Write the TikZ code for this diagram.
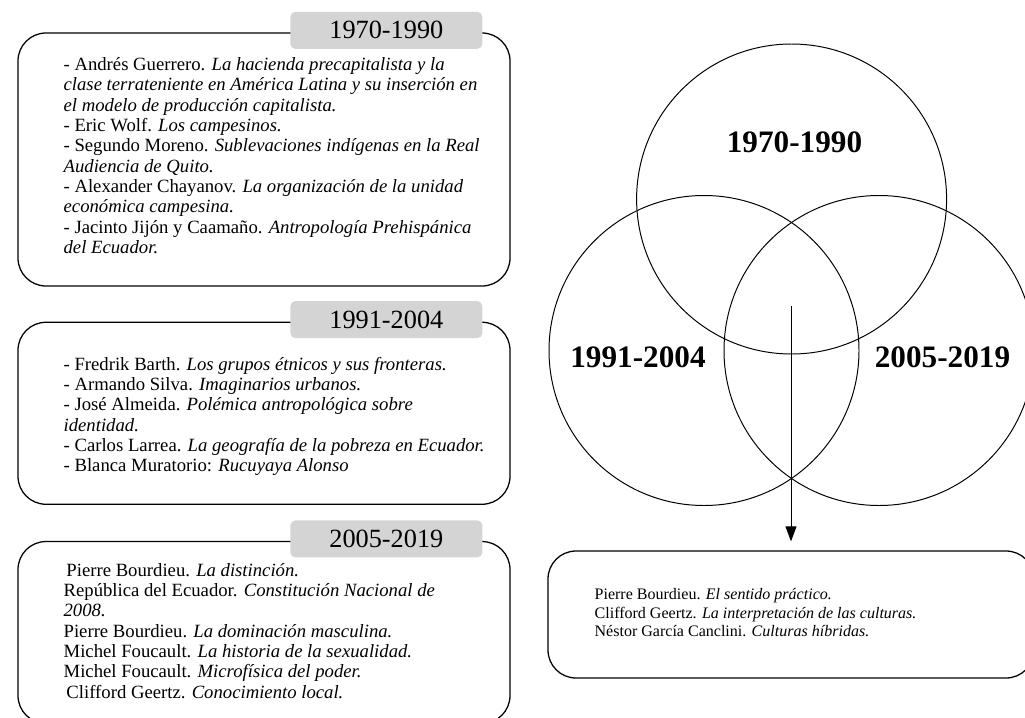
\documentclass[tikz,border=0pt]{standalone}
\usepackage{fontspec}
\setmainfont{Liberation Serif}
\usetikzlibrary{positioning,arrows.meta}
\definecolor{tabgray}{RGB}{212,212,212}
\tikzset{
  periodbox/.style={draw, line width=0.9pt, rounded corners=0.7cm, minimum width=12.3cm, inner sep=0pt},
  periodtab/.style={fill=tabgray, rounded corners=0.125cm, minimum width=4.8cm, minimum height=0.925cm, inner sep=0pt, anchor=east, font=\fontsize{18.7pt}{20pt}\selectfont},
  reflist/.style={align=left, inner sep=0pt, anchor=north west, font=\fontsize{13.3pt}{14.45pt}\selectfont},
  venn/.style={draw, circle, line width=0.7pt, minimum size=7.75cm, inner sep=0pt},
  vennlabel/.style={inner sep=0pt, font=\fontsize{22.2pt}{24pt}\selectfont\bfseries}
}

\begin{document}
\begin{tikzpicture}
  \path[use as bounding box, clip] (0,0) rectangle (25.625,-17.95);
  \node[periodbox, minimum height=6.325cm] (box1) at (6.6,-3.9875) {};
  \node[periodbox, minimum height=4.55cm, below=0.875cm of box1] (box2) {};
  \node[periodbox, minimum height=4.55cm, below=0.9cm of box2] (box3) {};
  \node[periodtab] (tab1) at ([xshift=-0.7cm,yshift=0.05cm]box1.north east) {1970-1990};
  \node[periodtab] (tab2) at ([xshift=-0.7cm,yshift=0.05cm]box2.north east) {1991-2004};
  \node[periodtab] (tab3) at ([xshift=-0.7cm,yshift=0.05cm]box3.north east) {2005-2019};
  \node[reflist] (list1) at ([xshift=1.15cm,yshift=-0.625cm]box1.north west) {- Andrés Guerrero. \textit{La hacienda precapitalista y la}\\
    \textit{clase terrateniente en América Latina y su inserción en}\\
    \textit{el modelo de producción capitalista.}\\
    - Eric Wolf. \textit{Los campesinos.}\\
    - Segundo Moreno. \textit{Sublevaciones indígenas en la Real}\\
    \textit{Audiencia de Quito.}\\
    - Alexander Chayanov. \textit{La organización de la unidad}\\
    \textit{económica campesina.}\\
    - Jacinto Jijón y Caamaño. \textit{Antropología Prehispánica}\\
    \textit{del Ecuador.}};
  \node[reflist] (list2) at ([xshift=1.15cm,yshift=-0.875cm]box2.north west) {- Fredrik Barth. \textit{Los grupos étnicos y sus fronteras.}\\
    - Armando Silva. \textit{Imaginarios urbanos.}\\
    - José Almeida. \textit{Polémica antropológica sobre}\\
    \textit{identidad.}\\
    - Carlos Larrea. \textit{La geografía de la pobreza en Ecuador.}\\
    - Blanca Muratorio: \textit{Rucuyaya Alonso}};
  \node[reflist] (list3) at ([xshift=1.15cm,yshift=-0.55cm]box3.north west) {\hspace*{0.15em}Pierre Bourdieu. \textit{La distinción.}\\
    República del Ecuador. \textit{Constitución Nacional de}\\
    \textit{2008.}\\
    Pierre Bourdieu. \textit{La dominación masculina.}\\
    Michel Foucault. \textit{La historia de la sexualidad.}\\
    Michel Foucault. \textit{Microfísica del poder.}\\
    \hspace*{0.15em}Clifford Geertz. \textit{Conocimiento local.}};
  \node[venn] (c1) at (19.79,-4.975) {};
  \node[venn] (c2) at (17.6,-8.7625) {};
  \node[venn] (c3) at (21.975,-8.7625) {};
  \node[vennlabel] (lab1) at (19.8625,-3.5625) {1970-1990};
  \node[vennlabel] (lab2) at (15.95,-8.925) {1991-2004};
  \node[vennlabel] (lab3) at (23.5625,-8.925) {2005-2019};
  \node[periodbox, minimum width=12.15cm, minimum height=3.175cm] (boxR) at (19.775,-15.3625) {};
  \node[reflist, font=\fontsize{11.4pt}{13.2pt}\selectfont] (listR) at ([xshift=1.175cm,yshift=-0.95cm]boxR.north west) {Pierre Bourdieu. \textit{El sentido práctico.}\\
    Clifford Geertz. \textit{La interpretación de las culturas.}\\
    Néstor García Canclini. \textit{Culturas híbridas.}};
  \coordinate (arrtop) at (19.775,-7.65);
  \draw[line width=0.7pt, -{Triangle[length=0.375cm, width=0.275cm]}, shorten >=0.225cm] (arrtop) -- (boxR.north);
\end{tikzpicture}
\end{document}
